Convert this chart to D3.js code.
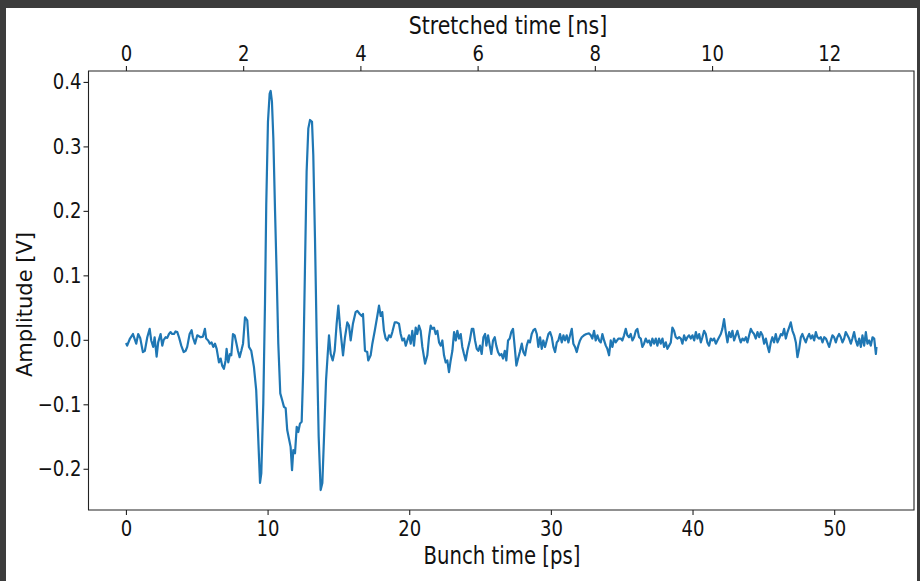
<!DOCTYPE html>
<html>
<head>
<meta charset="utf-8">
<script src="https://cdn.jsdelivr.net/npm/d3@7"></script>
<style>
  html, body { margin: 0; padding: 0; background: #3c3c3c; }
  svg { display: block; }
  text { font-family: "DejaVu Sans", sans-serif; fill: #111; }
</style>
</head>
<body>
<div id="chart"></div>
<script>
/* ── data: bunch time [ps] and amplitude [V] ── */
const bunchTime = [
  0.00,0.08,0.28,0.49,0.63,0.72,0.86,1.00,1.19,1.33,1.50,1.67,1.78,1.92,2.02,2.16,2.27,2.44,2.56,2.66,
  2.80,2.91,3.03,3.15,3.26,3.38,3.50,3.62,3.74,3.90,4.07,4.21,4.32,4.49,4.63,4.72,4.87,5.03,5.27,5.43,
  5.57,5.66,5.80,5.92,6.04,6.16,6.28,6.40,6.56,6.68,6.79,6.91,7.03,7.10,7.22,7.34,7.43,7.55,7.67,7.78,
  7.90,8.02,8.14,8.26,8.40,8.56,8.68,8.84,9.03,9.19,9.31,9.46,9.55,9.69,9.81,9.90,10.02,10.14,10.21,10.30,
  10.40,10.52,10.64,10.75,10.89,11.03,11.15,11.27,11.38,11.50,11.62,11.72,11.81,11.93,12.05,12.16,12.28,12.40,12.51,12.63,
  12.75,12.87,12.99,13.13,13.22,13.34,13.46,13.60,13.74,13.86,13.98,14.12,14.24,14.33,14.45,14.59,14.73,14.87,14.99,15.11,
  15.32,15.46,15.62,15.74,15.86,16.02,16.21,16.33,16.50,16.64,16.73,16.87,17.03,17.10,17.27,17.39,17.56,17.74,17.86,17.98,
  18.09,18.21,18.33,18.45,18.57,18.69,18.80,18.97,19.11,19.27,19.39,19.51,19.63,19.75,19.86,19.98,20.10,20.21,20.33,20.45,
  20.56,20.68,20.80,20.92,21.11,21.27,21.39,21.51,21.62,21.74,21.86,21.98,22.10,22.22,22.33,22.45,22.57,22.68,22.80,22.92,
  23.04,23.16,23.28,23.39,23.51,23.63,23.74,23.86,23.98,24.10,24.27,24.41,24.52,24.64,24.76,24.87,24.99,25.11,25.23,25.35,
  25.44,25.56,25.68,25.79,25.91,26.03,26.14,26.26,26.38,26.50,26.62,26.74,26.85,26.97,27.09,27.20,27.32,27.44,27.56,27.68,
  27.80,27.94,28.05,28.17,28.29,28.40,28.52,28.64,28.76,28.88,29.00,29.11,29.23,29.35,29.46,29.58,29.70,29.82,29.94,30.06,
  30.17,30.29,30.41,30.52,30.64,30.76,30.88,30.99,31.11,31.23,31.35,31.47,31.58,31.70,31.82,31.93,32.05,32.17,32.33,32.50,
  32.69,32.81,32.92,33.04,33.16,33.28,33.40,33.52,33.63,33.75,33.87,33.98,34.10,34.22,34.34,34.45,34.57,34.76,34.93,35.04,
  35.16,35.28,35.39,35.51,35.63,35.75,35.87,35.99,36.10,36.22,36.34,36.45,36.57,36.69,36.81,36.93,37.05,37.16,37.28,37.40,
  37.51,37.63,37.75,37.87,37.99,38.11,38.22,38.34,38.46,38.57,38.69,38.81,38.93,39.05,39.17,39.28,39.40,39.52,39.63,39.75,
  39.87,39.99,40.11,40.23,40.34,40.46,40.58,40.69,40.81,40.93,41.04,41.16,41.28,41.40,41.52,41.64,41.75,41.87,41.99,42.10,
  42.22,42.34,42.46,42.58,42.70,42.81,42.93,43.05,43.16,43.28,43.40,43.52,43.64,43.76,43.87,43.99,44.11,44.22,44.34,44.46,
  44.58,44.70,44.81,44.93,45.05,45.17,45.28,45.40,45.52,45.63,45.75,45.87,45.99,46.11,46.23,46.34,46.46,46.58,46.70,46.81,
  46.93,47.05,47.17,47.29,47.40,47.52,47.64,47.75,47.87,47.99,48.11,48.23,48.35,48.46,48.58,48.70,48.81,48.93,49.05,49.17,
  49.29,49.41,49.52,49.64,49.76,49.87,49.99,50.11,50.22,50.34,50.46,50.58,50.70,50.81,50.93,51.05,51.17,51.28,51.40,51.52,
  51.64,51.76,51.88,51.99,52.11,52.23,52.34,52.46,52.58,52.70,52.82,52.94,52.98
];

const amplitude = [
  -0.005,-0.009,0.002,0.009,0.000,-0.006,0.009,0.003,-0.019,-0.017,0.004,0.017,-0.001,-0.011,0.004,-0.026,-0.004,0.009,-0.009,0.000,
  0.004,0.003,0.009,0.012,0.009,0.009,0.013,0.012,0.004,-0.009,-0.019,-0.017,-0.011,0.009,0.015,0.004,-0.006,0.007,0.004,0.005,
  0.017,0.002,-0.001,-0.006,-0.004,-0.011,-0.006,-0.014,-0.035,-0.029,-0.040,-0.045,-0.032,-0.014,-0.035,-0.022,-0.024,0.009,0.007,-0.004,
  -0.017,-0.027,-0.017,-0.006,0.035,0.030,-0.011,-0.017,-0.042,-0.078,-0.140,-0.222,-0.207,-0.099,0.056,0.210,0.338,0.382,0.386,0.370,
  0.313,0.200,0.097,-0.006,-0.083,-0.094,-0.104,-0.106,-0.140,-0.153,-0.166,-0.202,-0.171,-0.176,-0.135,-0.143,-0.130,-0.127,-0.047,0.107,
  0.261,0.328,0.341,0.338,0.287,0.158,0.004,-0.150,-0.233,-0.222,-0.150,-0.063,-0.022,0.007,-0.022,-0.032,-0.017,0.025,0.053,0.020,
  -0.024,0.004,0.027,0.022,-0.001,0.025,0.043,0.045,0.040,0.037,0.040,-0.017,-0.019,-0.032,-0.024,-0.006,0.014,0.037,0.053,0.037,
  0.043,0.014,0.002,-0.001,0.007,0.004,0.012,0.027,0.027,0.025,0.009,-0.001,0.002,-0.009,-0.001,0.007,-0.006,0.014,-0.009,0.019,
  0.009,0.022,0.014,-0.011,-0.037,-0.024,0.004,0.022,0.017,0.019,0.009,0.014,-0.004,-0.009,-0.001,-0.024,-0.035,-0.032,-0.050,-0.032,
  -0.017,0.012,-0.001,0.014,0.002,0.009,-0.011,-0.022,-0.032,-0.017,-0.001,0.017,0.017,-0.001,-0.014,-0.017,-0.009,-0.022,0.004,0.009,
  -0.009,0.007,-0.009,-0.022,-0.001,0.004,-0.009,-0.019,-0.024,-0.022,-0.029,-0.017,-0.032,-0.001,0.002,0.012,0.017,-0.011,-0.040,-0.029,
  -0.019,-0.006,-0.019,-0.024,-0.009,-0.001,-0.004,0.009,0.015,0.017,0.009,-0.011,0.004,-0.014,-0.001,-0.011,-0.001,0.009,0.012,0.004,
  -0.011,-0.019,-0.004,-0.001,0.009,-0.004,0.007,-0.001,0.007,-0.004,0.007,0.017,-0.006,-0.011,-0.019,-0.009,-0.001,0.004,0.007,0.009,
  0.010,0.007,0.002,0.014,-0.001,0.007,-0.001,-0.004,0.009,-0.001,-0.009,-0.014,-0.024,-0.001,-0.011,0.002,-0.004,0.002,0.002,-0.001,
  0.007,0.017,0.007,0.004,0.009,-0.001,0.004,0.014,0.017,0.004,0.002,-0.011,-0.006,0.002,-0.004,-0.001,-0.009,0.002,-0.006,0.002,
  -0.009,0.002,-0.006,0.002,-0.011,-0.004,-0.014,-0.009,-0.004,0.019,0.014,0.004,0.002,0.004,0.002,-0.006,0.007,-0.001,0.004,0.007,
  0.002,0.007,-0.001,0.012,0.002,0.009,-0.004,0.004,0.014,0.009,-0.004,-0.009,0.002,-0.001,0.002,-0.006,-0.001,0.004,0.009,0.017,
  0.032,0.012,-0.004,0.012,0.004,0.014,-0.001,0.007,0.014,0.004,-0.004,0.002,-0.001,0.004,-0.004,0.007,0.017,0.012,0.009,0.002,
  0.012,0.004,0.012,0.007,-0.006,0.002,-0.009,-0.019,-0.004,0.004,-0.004,0.009,-0.004,0.002,0.009,0.007,0.017,0.002,0.012,0.019,
  0.027,0.014,0.007,-0.004,-0.027,-0.014,0.004,0.009,0.002,-0.004,0.004,0.009,0.002,0.007,-0.001,0.012,0.004,0.002,0.004,-0.004,
  0.004,0.002,-0.004,-0.011,-0.001,0.007,0.004,-0.004,0.004,0.009,0.004,-0.004,0.002,0.012,0.007,0.002,-0.006,0.002,0.012,-0.001,
  -0.009,0.002,-0.011,0.007,-0.009,0.012,-0.006,-0.001,-0.009,0.004,0.002,-0.022,-0.011
];

const bottomTicks = [0, 10, 20, 30, 40, 50];
const topTicks = [0, 2, 4, 6, 8, 10, 12];
const leftTicks = [-0.2, -0.1, 0.0, 0.1, 0.2, 0.3, 0.4];
const STRETCH = 1 / 4.138;   // ns of stretched time per ps of bunch time

/* ── page geometry ── */
const W = 920, H = 581;
const SX = 0.82;                 // the figure is squeezed horizontally
const ux = px => px / SX;        // screen px -> unsqueezed coordinates
const plot = { left: 88.5, right: 914, top: 71, bottom: 510 };

const svg = d3.select('#chart').append('svg')
  .attr('width', W).attr('height', H);

svg.append('rect').attr('width', W).attr('height', H).attr('fill', '#3c3c3c');
svg.append('rect').attr('x', 6).attr('y', 8).attr('width', 911).attr('height', H - 8)
  .attr('fill', '#ffffff');

const g = svg.append('g').attr('transform', `scale(${SX},1)`);

/* matplotlib-style 5% margins */
const [tMin, tMax] = d3.extent(bunchTime);
const [aMin, aMax] = d3.extent(amplitude);
const tPad = (tMax - tMin) * 0.05, aPad = (aMax - aMin) * 0.05;

const x = d3.scaleLinear().domain([tMin - tPad, tMax + tPad])
  .range([ux(plot.left), ux(plot.right)]);
const xTop = d3.scaleLinear().domain(x.domain().map(d => d * STRETCH)).range(x.range());
const y = d3.scaleLinear().domain([aMin - aPad, aMax + aPad])
  .range([plot.bottom, plot.top]);

function styleAxis(sel) {
  sel.select('.domain').remove();
  sel.selectAll('.tick line').attr('stroke', '#222').attr('stroke-width', 1.1)
    .attr('vector-effect', 'non-scaling-stroke');
  sel.selectAll('.tick text').attr('font-size', 22)
    .attr('font-family', '"DejaVu Sans", sans-serif').attr('fill', '#111');
}

g.append('g').attr('transform', `translate(0,${plot.bottom})`)
  .call(d3.axisBottom(x).tickValues(bottomTicks).tickSize(5).tickPadding(5)
    .tickFormat(d3.format('d')))
  .call(styleAxis);

g.append('g').attr('transform', `translate(0,${plot.top})`)
  .call(d3.axisTop(xTop).tickValues(topTicks).tickSize(5).tickPadding(5)
    .tickFormat(d3.format('d')))
  .call(styleAxis);

g.append('g').attr('transform', `translate(${ux(plot.left)},0)`)
  .call(d3.axisLeft(y).tickValues(leftTicks).tickSize(5 / SX).tickPadding(2 / SX)
    .tickFormat(d3.format('.1f')))
  .call(styleAxis);

/* signal trace */
const line = d3.line().x((d, i) => x(bunchTime[i])).y(d => y(d));
g.append('path').datum(amplitude)
  .attr('d', line)
  .attr('fill', 'none')
  .attr('stroke', '#1f77b4')
  .attr('stroke-width', 2.2)
  .attr('stroke-linejoin', 'round')
  .attr('vector-effect', 'non-scaling-stroke');

/* spines */
g.append('rect')
  .attr('x', ux(plot.left)).attr('y', plot.top)
  .attr('width', ux(plot.right) - ux(plot.left)).attr('height', plot.bottom - plot.top)
  .attr('fill', 'none').attr('stroke', '#222').attr('stroke-width', 1.1)
  .attr('vector-effect', 'non-scaling-stroke');

/* axis titles */
g.append('text').attr('x', ux(502)).attr('y', 564)
  .attr('text-anchor', 'middle').attr('font-size', 24)
  .text('Bunch time [ps]');

g.append('text').attr('x', ux(508)).attr('y', 34)
  .attr('text-anchor', 'middle').attr('font-size', 25)
  .text('Stretched time [ns]');

// the rotated label is not squeezed in the reference
svg.append('text')
  .attr('transform', `translate(32,${(plot.top + plot.bottom) / 2 + 14}) rotate(-90)`)
  .attr('text-anchor', 'middle').attr('font-size', 21)
  .text('Amplitude [V]');
</script>
</body>
</html>
